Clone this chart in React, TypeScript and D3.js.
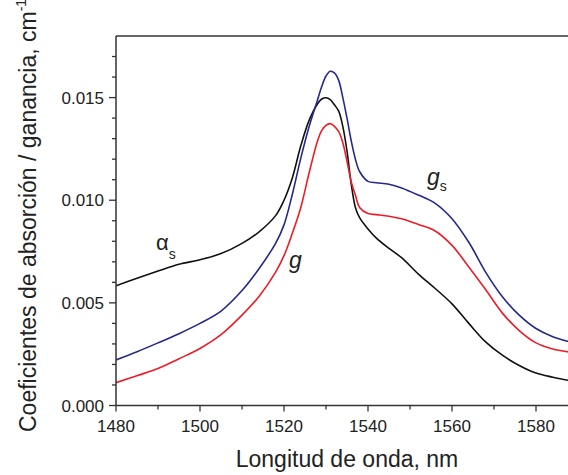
import React from "react";
import * as d3 from "d3";

const wavelengths = [1480, 1485, 1490, 1495, 1500, 1505, 1510, 1514, 1518, 1520, 1522, 1524, 1526, 1528, 1529, 1530, 1531, 1532, 1533, 1534, 1535, 1536, 1537, 1538, 1540, 1542, 1545, 1548, 1552, 1556, 1560, 1564, 1568, 1572, 1576, 1580, 1584, 1588, 1590];

const alphaS = [0.00583, 0.0062, 0.00655, 0.00688, 0.0071, 0.0074, 0.0079, 0.00845, 0.00925, 0.01, 0.0111, 0.01265, 0.0139, 0.0147, 0.01493, 0.01499, 0.0149, 0.01465, 0.01435, 0.0136, 0.0124, 0.0108, 0.00965, 0.00915, 0.0086, 0.00815, 0.00765, 0.0072, 0.0064, 0.0057, 0.00495, 0.004, 0.0031, 0.00245, 0.00195, 0.00158, 0.00138, 0.00122, 0.00118];

const gS = [0.00222, 0.00262, 0.00305, 0.0035, 0.004, 0.0046, 0.0056, 0.00665, 0.0079, 0.0088, 0.0103, 0.01205, 0.0136, 0.0149, 0.01555, 0.01605, 0.01628, 0.0162, 0.01585, 0.015, 0.014, 0.0129, 0.012, 0.0114, 0.01092, 0.01085, 0.01078, 0.0106, 0.01025, 0.00985, 0.0091, 0.00795, 0.0065, 0.0053, 0.0044, 0.00375, 0.00335, 0.0031, 0.003];

const gVals = [0.00111, 0.00145, 0.0018, 0.00228, 0.00278, 0.00345, 0.0044, 0.0053, 0.0065, 0.0073, 0.0084, 0.00965, 0.01135, 0.0129, 0.0134, 0.01365, 0.01373, 0.0136, 0.01335, 0.0128, 0.0119, 0.0109, 0.01025, 0.00965, 0.00935, 0.0093, 0.00922, 0.0091, 0.00882, 0.0085, 0.0078, 0.00675, 0.00565, 0.0045, 0.00365, 0.00305, 0.00275, 0.0026, 0.00255];

const xMajorTicks = [1480, 1500, 1520, 1540, 1560, 1580];
const xMinorTicks = [1490, 1510, 1530, 1550, 1570, 1590];
const yMajorTicks = [0, 0.005, 0.01, 0.015];
const yTickLabels = ["0.000", "0.005", "0.010", "0.015"];
const yMinorTicks = [0.001, 0.002, 0.003, 0.004, 0.006, 0.007, 0.008, 0.009, 0.011, 0.012, 0.013, 0.014, 0.016, 0.017];

const seriesColors = { alpha: "#111111", gs: "#24288f", g: "#ee1c25" };

export default function App() {
  const W = 568, H = 475;
  const left = 116, top = 36, bottom = 405.5;
  const x = d3.scaleLinear().domain([1480, 1590]).range([left, left + 110 * 4.2]);
  const y = d3.scaleLinear().domain([0, 0.018]).range([bottom, top]);
  const line = (vals: number[]) =>
    d3.line<number>().x((_, i) => x(wavelengths[i])).y((d) => y(d)).curve(d3.curveCatmullRom.alpha(0.5))(vals) || "";
  const font = "'Liberation Sans', Arial, Helvetica, sans-serif";
  const axisColor = "#333";
  const textColor = "#222";
  return (
    <svg width={W} height={H} style={{ position: "absolute", left: 0, top: 0, background: "#fff" }} fontFamily={font}>
      <defs>
        <clipPath id="plotClip">
          <rect x={left} y={top} width={x(1590) - left} height={bottom - top} />
        </clipPath>
      </defs>
      <g clipPath="url(#plotClip)" fill="none" strokeWidth={1.6} strokeLinejoin="round">
        <path d={line(alphaS)} stroke={seriesColors.alpha} />
        <path d={line(gS)} stroke={seriesColors.gs} />
        <path d={line(gVals)} stroke={seriesColors.g} />
      </g>
      {/* axes */}
      <line x1={left} x2={x(1590)} y1={top} y2={top} stroke={axisColor} strokeWidth={1.5} />
      <line x1={left} x2={left} y1={top} y2={bottom} stroke={axisColor} strokeWidth={1.5} />
      <line x1={left} x2={x(1590)} y1={bottom} y2={bottom} stroke={axisColor} strokeWidth={1.5} />
      {xMajorTicks.map((t) => (
        <g key={"xm" + t}>
          <line x1={x(t)} x2={x(t)} y1={bottom} y2={bottom + 6} stroke={axisColor} strokeWidth={1.3} />
          <text x={x(t)} y={bottom + 26.5} textAnchor="middle" fontSize={17} fill={textColor}>{t}</text>
        </g>
      ))}
      {xMinorTicks.map((t) => (
        <line key={"xn" + t} x1={x(t)} x2={x(t)} y1={bottom} y2={bottom + 4} stroke={axisColor} strokeWidth={1.3} />
      ))}
      {yMajorTicks.map((t, i) => (
        <g key={"ym" + t}>
          <line x1={left - 7} x2={left} y1={y(t)} y2={y(t)} stroke={axisColor} strokeWidth={1.3} />
          <text x={left - 12} y={y(t) + 6} textAnchor="end" fontSize={17} fill={textColor}>{yTickLabels[i]}</text>
        </g>
      ))}
      {yMinorTicks.map((t) => (
        <line key={"yn" + t} x1={left - 4} x2={left} y1={y(t)} y2={y(t)} stroke={axisColor} strokeWidth={1.3} />
      ))}
      {/* axis titles */}
      <text x={347} y={467} textAnchor="middle" fontSize={23} fill={textColor}>Longitud de onda, nm</text>
      <text transform="translate(36,432) rotate(-90)" fontSize={23} fill={textColor}>
        Coeficientes de absorción / ganancia, cm
        <tspan fontSize={14} dy={-10}>-1</tspan>
      </text>
      {/* series labels */}
      <text x={156} y={250} fontSize={22} fill={textColor}>
        α<tspan fontSize={14} dy={9}>s</tspan>
      </text>
      <text x={289} y={268} fontSize={23} fontStyle="italic" fill={textColor}>g</text>
      <text x={427} y={185} fontSize={23} fontStyle="italic" fill={textColor}>
        g<tspan fontSize={14} fontStyle="normal" dy={6}>s</tspan>
      </text>
    </svg>
  );
}
